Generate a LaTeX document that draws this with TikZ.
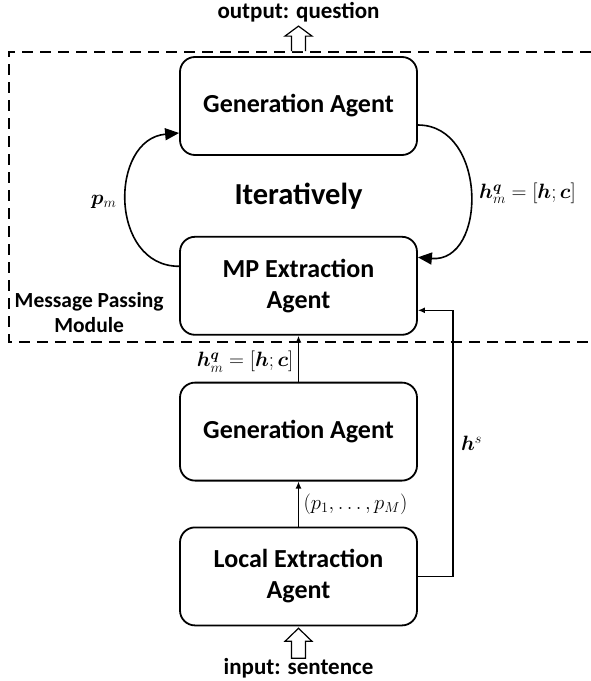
\documentclass[tikz,border=0pt]{standalone}
\usepackage{amsmath,bm}
\usepackage{fontspec}
\setmainfont{Carlito}
\usetikzlibrary{positioning,arrows.meta,calc}
\tikzset{
  agent/.style={draw,line width=1.8pt,rounded corners=15pt,align=center,
    font=\fontsize{26}{31}\selectfont\bfseries,minimum width=237pt,minimum height=98pt},
  ar/.style={-{Latex[length=7pt,width=6pt]},line width=1.6pt},
  cyc/.style={-{Triangle[length=14pt,width=12pt]},line width=1.6pt},
  hollow/.style={draw,fill=white,line width=1.2pt,line join=miter},
  io/.style={font=\fontsize{23}{27}\selectfont\bfseries},
  lbl/.style={font=\fontsize{21}{25}\selectfont},
}
\begin{document}
\begin{tikzpicture}[
  mod/.style={font=\fontsize{21.5}{25}\selectfont\bfseries,align=center}]
  \useasboundingbox (-298.5pt,-575pt) rectangle (292.5pt,106pt);
  % message passing module
  \draw[line width=1.6pt,dash pattern=on 11pt off 7pt]
    (292.5pt,54pt) -- (-289.5pt,54pt) -- (-289.5pt,-236pt) -- (292.5pt,-236pt);
  \node[agent] (gen) at (0,0) {Generation Agent};
  \node[agent,below=80pt of gen] (mp) {MP Extraction\\Agent};
  \node[font=\fontsize{30.5}{35}\selectfont\bfseries] (iter) at ($(gen.south)!0.5!(mp.north)$) {Iteratively};
  \draw[cyc] ([yshift=19.5pt]mp.west) to[out=180,in=185,looseness=1.35]
    node[midway,left=6pt,lbl] (pm) {$\bm{p}_m$} ([yshift=-27pt]gen.west);
  \draw[cyc] ([yshift=-19pt]gen.east) to[out=0,in=-5,looseness=1.35]
    node[midway,right=5pt,lbl] (hq) {$\bm{h}_m^{\bm{q}}=[\bm{h};\bm{c}]$} ([yshift=28.5pt]mp.east);
  \node[mod,left=12pt of mp.west,yshift=-27pt] (mpm) {Message Passing\\Module};
  % lower agents
  \node[agent,below=46pt of mp] (gen2) {Generation Agent};
  \node[agent,below=45pt of gen2] (loc) {Local Extraction\\Agent};
  \draw[ar] (gen2) -- node[midway,left=1pt,yshift=-3pt,lbl] (hq2) {$\bm{h}_m^{\bm{q}}=[\bm{h};\bm{c}]$} (mp);
  \draw[ar] (loc) -- node[midway,right=1pt,lbl] (ps) {$(p_1,\dots,p_M)$} (gen2);
  \draw[ar] (loc.east) -- ++(35pt,0) |- node[pos=0.25,right=4pt,lbl] (hs) {$\bm{h}^s$}
    ([yshift=-24.5pt]mp.east);
  % input / output
  \coordinate (ob) at ([yshift=5pt]gen.north);
  \draw[hollow] ([xshift=-7pt]ob) -- ++(0,15pt) -- ++(-6.5pt,0) -- ++(13.5pt,10pt)
    -- ++(13.5pt,-10pt) -- ++(-6.5pt,0) -- ++(0,-15pt);
  \node[io] (out) at (0,94pt) {output: question};
  \coordinate (ib) at ([yshift=-32pt]loc.south);
  \draw[hollow] ([xshift=-7pt]ib) -- ++(0,17pt) -- ++(-6.5pt,0) -- ++(13.5pt,13pt)
    -- ++(13.5pt,-13pt) -- ++(-6.5pt,0) -- ++(0,-17pt) -- cycle;
  \node[io] (in) at (0,-562pt) {input: sentence};
\end{tikzpicture}
\end{document}
